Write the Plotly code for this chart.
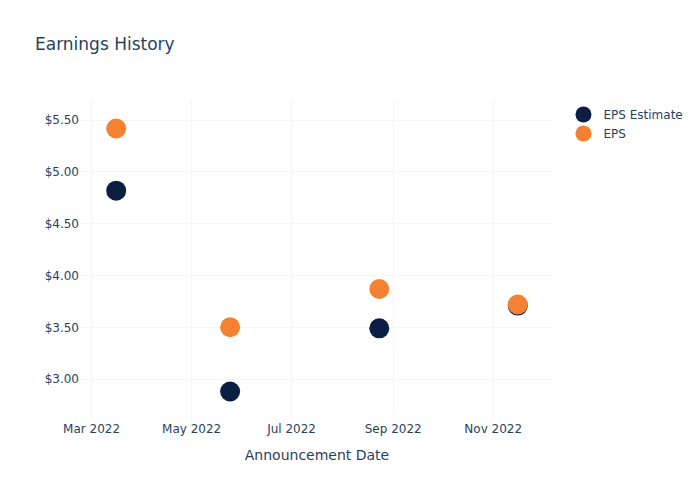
import plotly.graph_objects as go

dates = ["2022-03-16", "2022-05-24 12:00", "2022-08-23 12:00", "2022-11-16"]
eps_estimate = [4.82, 2.88, 3.49, 3.71]
eps_actual = [5.42, 3.50, 3.87, 3.72]

fig = go.Figure()
fig.add_trace(go.Scatter(x=dates, y=eps_estimate, mode="markers", name="EPS Estimate",
                         marker=dict(color="#0b1f42", size=20)))
fig.add_trace(go.Scatter(x=dates, y=eps_actual, mode="markers", name="EPS",
                         marker=dict(color="#f58233", size=20)))
fig.update_layout(
    template="plotly_white",
    width=700, height=500,
    font=dict(family="DejaVu Sans"),
    title=dict(text="Earnings History"),
    xaxis=dict(title=dict(text="Announcement Date"), gridcolor="#f3f5f9"),
    yaxis=dict(tickformat="$.2f", gridcolor="#f3f5f9"),
)
fig.write_html("out.html")
